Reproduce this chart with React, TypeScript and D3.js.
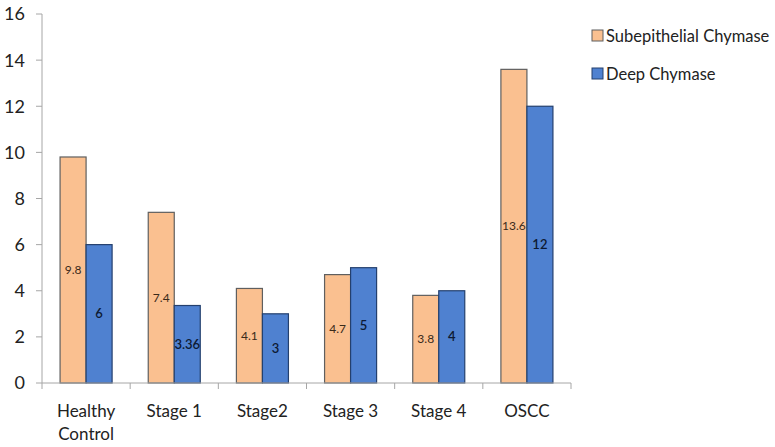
import React from "react";
import * as d3 from "d3";

const categories: string[][] = [["Healthy", "Control"], ["Stage 1"], ["Stage2"], ["Stage 3"], ["Stage 4"], ["OSCC"]];
const seriesNames = ["Subepithelial Chymase", "Deep Chymase"];
const subepithelial = [9.8, 7.4, 4.1, 4.7, 3.8, 13.6];
const deep = [6, 3.36, 3, 5, 4, 12];
const subLabels = ["9.8", "7.4", "4.1", "4.7", "3.8", "13.6"];
const deepLabels = ["6", "3.36", "3", "5", "4", "12"];
const yTicks = [0, 2, 4, 6, 8, 10, 12, 14, 16];

const fills = ["#FAC090", "#4F81D0"];
const strokes = ["#5f5f5f", "#24406e"];
const FONT = "Lato, 'Liberation Sans', sans-serif";

export default function App() {
  const W = 775, H = 447;
  const x0 = 42, x1 = 571, yTop = 14, yBot = 383;
  const keys = categories.map((c) => c.join(" "));
  const x = d3.scaleBand<string>().domain(keys).range([x0, x1]).padding(0);
  const bw = x.bandwidth();
  const inner = d3.scaleBand<string>().domain(seriesNames).range([bw * 0.205, bw * 0.795]).padding(0);
  const y = d3.scaleLinear().domain([0, 16]).range([yBot, yTop]);
  const data = [subepithelial, deep];
  const labels = [subLabels, deepLabels];

  return (
    <svg width={W} height={H} style={{ position: "absolute", left: 0, top: 0, background: "#fff" }}>
      <line x1={x0} x2={x0} y1={yTop} y2={yBot} stroke="#a6a6a6" strokeWidth={1} />
      {yTicks.map((t) => (
        <g key={t}>
          <line x1={x0 - 6} x2={x0} y1={y(t)} y2={y(t)} stroke="#a6a6a6" />
          <text x={25} y={y(t)} dy="0.36em" textAnchor="end" fontFamily={FONT} fontSize={18} fill="#222">
            {t}
          </text>
        </g>
      ))}
      {keys.map((k, i) => (
        <g key={k}>
          {seriesNames.map((s, j) => {
            const bx = (x(k) as number) + (inner(s) as number);
            const v = data[j][i];
            return (
              <g key={s}>
                <rect x={bx} y={y(v)} width={inner.bandwidth()} height={yBot - y(v)} fill={fills[j]} stroke={strokes[j]} strokeWidth={1.2} />
                <text x={bx + inner.bandwidth() / 2} y={(y(v) + yBot) / 2} dy="0.35em" textAnchor="middle" fontFamily={FONT} fontSize={j === 0 ? 12 : 13} fontWeight={j === 0 ? 400 : 600} fill={j === 0 ? "#3a2a1a" : "#0d1a33"}>
                  {labels[j][i]}
                </text>
              </g>
            );
          })}
        </g>
      ))}
      <line x1={x0} x2={x1} y1={yBot} y2={yBot} stroke="#a6a6a6" />
      {d3.range(keys.length + 1).map((i) => (
        <line key={i} x1={x0 + i * bw} x2={x0 + i * bw} y1={yBot} y2={yBot + 6} stroke="#a6a6a6" />
      ))}
      {categories.map((c, i) => (
        <text key={i} x={(x(keys[i]) as number) + bw / 2} y={417} textAnchor="middle" fontFamily={FONT} fontSize={17} fill="#222">
          {c.map((line, li) => (
            <tspan key={li} x={(x(keys[i]) as number) + bw / 2} dy={li === 0 ? 0 : 23}>
              {line}
            </tspan>
          ))}
        </text>
      ))}
      {seriesNames.map((s, j) => (
        <g key={s} transform={`translate(592, ${30 + j * 38})`}>
          <rect x={0} y={0} width={11} height={11} fill={fills[j]} stroke={strokes[j]} strokeWidth={1} />
          <text x={14} y={6} dy="0.38em" fontFamily={FONT} fontSize={16.5} fill="#222">
            {s}
          </text>
        </g>
      ))}
    </svg>
  );
}
